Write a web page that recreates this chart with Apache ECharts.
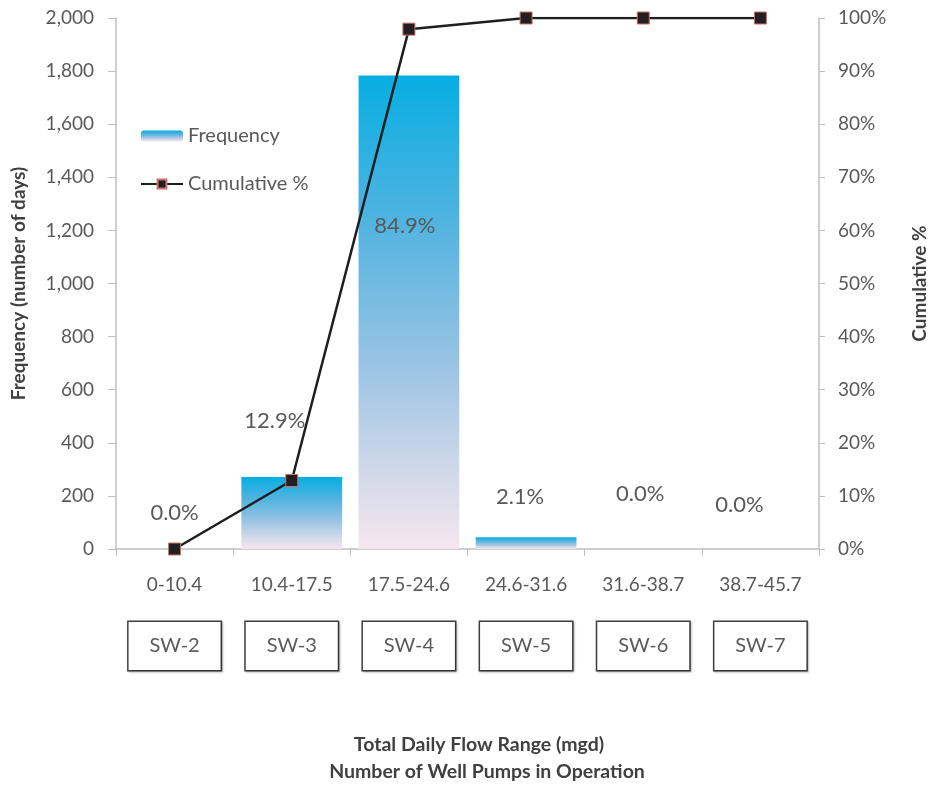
<!DOCTYPE html>
<html>
<head>
<meta charset="utf-8">
<script src="https://cdn.jsdelivr.net/npm/echarts@6/dist/echarts.min.js"></script>
<style>html,body{margin:0;padding:0;background:#fff}#c{width:929px;height:787px}</style>
</head>
<body>
<div id="c"></div>
<script>
const categories = ['0-10.4', '10.4-17.5', '17.5-24.6', '24.6-31.6', '31.6-38.7', '38.7-45.7'];
const pumpLabels = ['SW-2', 'SW-3', 'SW-4', 'SW-5', 'SW-6', 'SW-7'];
const frequency = [0, 271, 1783, 44, 0, 0];
const percentLabels = ['0.0%', '12.9%', '84.9%', '2.1%', '0.0%', '0.0%'];
const cumulative = [0, 12.9, 97.9, 100, 100, 100];
const leftTicks = { min: 0, max: 2000, interval: 200 };
const rightTicks = { min: 0, max: 100, interval: 10 };
const titleLines = ['Total Daily Flow Range (mgd)', 'Number of Well Pumps in Operation'];

const FONT = 'Lato';
const gray = '#595959';
const axisGray = '#BFBFBF';

// label placement tweaks (style only)
const labelTweaks = [
  { position: 'top', distance: 25, offset: [0, 0] },
  { position: 'top', distance: 45, offset: [-17, 0] },
  { position: 'insideTop', distance: 139, offset: [-4, 0] },
  { position: 'top', distance: 29, offset: [-6, 0] },
  { position: 'top', distance: 44, offset: [-3, 0] },
  { position: 'top', distance: 33, offset: [-21, 0] }
];

const barGradient = new echarts.graphic.LinearGradient(0, 0, 0, 1, [
  { offset: 0, color: '#07AEE3' },
  { offset: 0.3, color: '#4FB3E0' },
  { offset: 0.6, color: '#97C3E3' },
  { offset: 0.85, color: '#D4DAEA' },
  { offset: 1, color: '#F6E6EE' }
]);

const chart = echarts.init(document.getElementById('c'));
chart.setOption({
  animation: false,
  textStyle: { fontFamily: FONT },
  grid: { left: 116, right: 110, top: 18, bottom: 238, containLabel: false, outerBoundsMode: 'none' },
  legend: {
    orient: 'vertical', left: 140, top: 126, itemGap: 28, padding: 0,
    itemWidth: 42, itemHeight: 11,
    textStyle: { fontFamily: FONT, fontSize: 20, color: gray },
    data: ['Frequency', 'Cumulative %']
  },
  xAxis: [{
    type: 'category', data: categories, position: 'bottom',
    axisLine: { lineStyle: { color: axisGray, width: 1.5 } },
    axisTick: { show: true, length: 7, lineStyle: { color: axisGray } },
    axisLabel: { margin: 26, fontSize: 19, color: gray, fontFamily: FONT, interval: 0 }
  }, {
    type: 'category', data: pumpLabels, position: 'bottom',
    axisLine: { show: false }, axisTick: { show: false },
    axisLabel: {
      margin: 73, fontSize: 20, color: gray, fontFamily: FONT, interval: 0,
      width: 92, height: 48, lineHeight: 48, align: 'center',
      borderColor: '#404040', borderWidth: 1.5,
      shadowColor: 'rgba(0,0,0,0.25)', shadowBlur: 2, shadowOffsetX: 1, shadowOffsetY: 1,
      backgroundColor: '#fff'
    }
  }],
  yAxis: [{
    type: 'value', min: leftTicks.min, max: leftTicks.max, interval: leftTicks.interval,
    name: 'Frequency (number of days)', nameLocation: 'middle', nameGap: 88,
    nameTextStyle: { fontFamily: FONT, fontSize: 19, fontWeight: 'bold', color: '#404040' },
    axisLine: { show: true, lineStyle: { color: axisGray, width: 1.5 } },
    axisTick: { show: true, length: 8, lineStyle: { color: axisGray } },
    splitLine: { show: false },
    axisLabel: { fontSize: 19, color: gray, fontFamily: FONT, margin: 22,
      formatter: v => v.toLocaleString('en-US') }
  }, {
    type: 'value', min: rightTicks.min, max: rightTicks.max, interval: rightTicks.interval,
    name: 'Cumulative %', nameLocation: 'middle', nameGap: 91, nameRotate: 90,
    nameTextStyle: { fontFamily: FONT, fontSize: 19, fontWeight: 'bold', color: '#404040' },
    axisLine: { show: true, lineStyle: { color: axisGray, width: 1.5 } },
    axisTick: { show: true, length: 6, lineStyle: { color: axisGray } },
    splitLine: { show: false },
    axisLabel: { fontSize: 19, color: gray, fontFamily: FONT, margin: 19, formatter: '{value}%' }
  }],
  series: [{
    name: 'Frequency', type: 'bar', barWidth: '86%',
    itemStyle: { color: barGradient },
    data: frequency.map((v, i) => ({
      value: v,
      label: Object.assign({
        show: true, formatter: percentLabels[i],
        fontSize: 22, color: gray, fontFamily: FONT
      }, labelTweaks[i])
    }))
  }, {
    name: 'Cumulative %', type: 'line', yAxisIndex: 1, z: 5,
    symbol: 'rect', symbolSize: 12,
    lineStyle: { color: '#1E1E1E', width: 2.5 },
    itemStyle: { color: '#231F20', borderColor: '#C9706C', borderWidth: 1 },
    data: cumulative
  }],
  graphic: [{
    type: 'text', x: 479, y: 745,
    style: { text: titleLines[0], align: 'center', verticalAlign: 'middle',
      font: 'bold 19.5px ' + FONT, fill: '#404040' }
  }, {
    type: 'text', x: 487, y: 772,
    style: { text: titleLines[1], align: 'center', verticalAlign: 'middle',
      font: 'bold 19.5px ' + FONT, fill: '#404040' }
  }]
});
</script>
</body>
</html>
